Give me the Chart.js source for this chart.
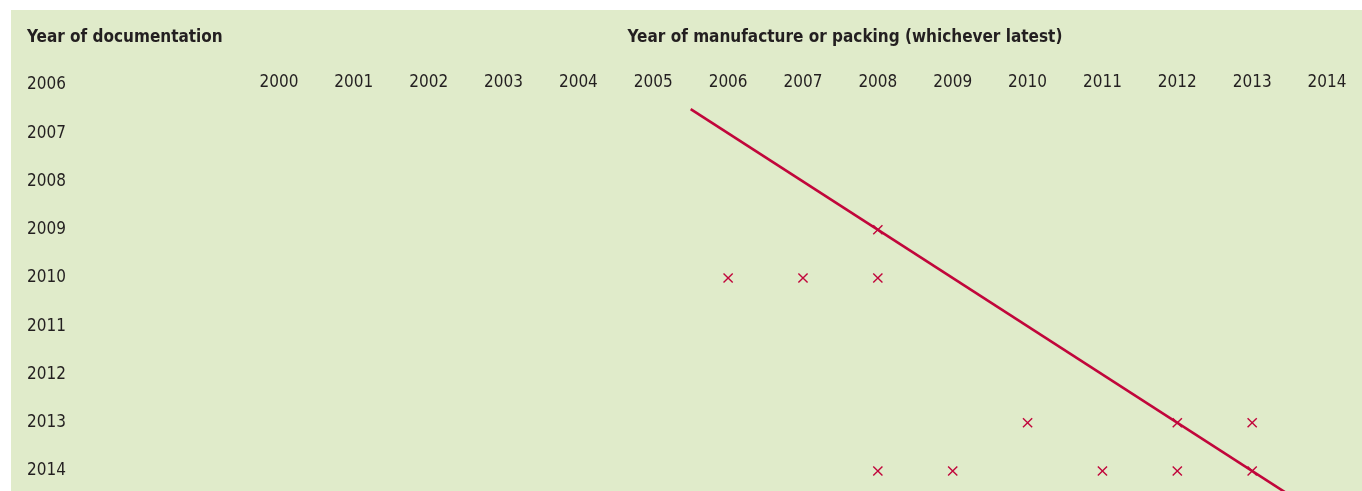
<!DOCTYPE html>
<html>
<head>
<meta charset="utf-8">
<script src="https://cdn.jsdelivr.net/npm/chart.js@4"></script>
<style>
  html, body { margin: 0; padding: 0; background: #ffffff; overflow: hidden; }
  #wrap { position: absolute; left: 11px; top: 10px; width: 1351px; height: 481px; background: #e0ebca; }
  canvas { display: block; }
</style>
</head>
<body>
<div id="wrap"><canvas id="c" width="1351" height="481"></canvas></div>
<script>
// ---- data ----
const manufactureYears = [2000, 2001, 2002, 2003, 2004, 2005, 2006, 2007, 2008, 2009, 2010, 2011, 2012, 2013, 2014];
const documentationYears = [2006, 2007, 2008, 2009, 2010, 2011, 2012, 2013, 2014];
const caseManufacture = [2008, 2006, 2007, 2008, 2010, 2012, 2013, 2008, 2009, 2011, 2012, 2013];
const caseDocumentation = [2009, 2010, 2010, 2010, 2013, 2013, 2013, 2014, 2014, 2014, 2014, 2014];
const refLineX = [2005.5, 2014.5];
const refLineY = [2006.5, 2015.5];
const xTitle = 'Year of manufacture or packing (whichever latest)';
const yTitle = 'Year of documentation';

const RED = '#c1063b';
const TEXT = '#231f20';
const FONT = "'DejaVu Sans Condensed', 'DejaVu Sans', sans-serif";

const titlesPlugin = {
  id: 'titles',
  afterDraw(chart) {
    const ctx = chart.ctx;
    ctx.save();
    ctx.fillStyle = TEXT;
    ctx.font = "bold 17px " + FONT;
    ctx.textBaseline = 'middle';
    ctx.textAlign = 'left';
    ctx.fillText(yTitle, 16, 28);
    ctx.textAlign = 'center';
    ctx.fillText(xTitle, 834, 28);
    ctx.restore();
  }
};

function zeroPad(scale) {
  scale.paddingTop = 0; scale.paddingBottom = 0;
  scale.paddingLeft = 0; scale.paddingRight = 0;
}

new Chart(document.getElementById('c'), {
  data: {
    datasets: [
      {
        type: 'line',
        data: refLineX.map((x, i) => ({ x: x, y: refLineY[i] })),
        borderColor: RED,
        borderWidth: 2.6,
        pointRadius: 0,
        fill: false,
        order: 2
      },
      {
        type: 'scatter',
        data: caseManufacture.map((x, i) => ({ x: x, y: caseDocumentation[i] })),
        pointStyle: 'crossRot',
        pointRadius: 6.5,
        pointHoverRadius: 6.5,
        borderColor: RED,
        backgroundColor: RED,
        pointBorderWidth: 1.4,
        order: 1
      }
    ]
  },
  options: {
    responsive: false,
    devicePixelRatio: 1,
    animation: false,
    events: [],
    layout: { autoPadding: false, padding: { left: 16, top: 0, right: 0, bottom: 0 } },
    plugins: { legend: { display: false }, tooltip: { enabled: false }, title: { display: false } },
    scales: {
      x: {
        type: 'linear',
        position: 'top',
        min: 1999.48,
        max: 2014.467,
        grid: { display: false, drawTicks: false },
        border: { display: false },
        afterFit(scale) { scale.height = 85; zeroPad(scale); },
        afterBuildTicks(scale) { scale.ticks = manufactureYears.map(v => ({ value: v })); },
        ticks: {
          padding: 2,
          color: TEXT,
          font: { family: FONT, size: 17 },
          maxRotation: 0,
          autoSkip: false,
          callback: v => String(v)
        }
      },
      y: {
        type: 'linear',
        position: 'left',
        reverse: true,
        min: 2006.2073,
        max: 2014.4145,
        grid: { display: false, drawTicks: false },
        border: { display: false },
        afterFit(scale) { scale.width = 213; zeroPad(scale); },
        afterBuildTicks(scale) { scale.ticks = documentationYears.map(v => ({ value: v })); },
        ticks: {
          crossAlign: 'far',
          color: TEXT,
          font: { family: FONT, size: 17 },
          autoSkip: false,
          callback: v => String(v)
        }
      }
    }
  },
  plugins: [titlesPlugin]
});
</script>
</body>
</html>
